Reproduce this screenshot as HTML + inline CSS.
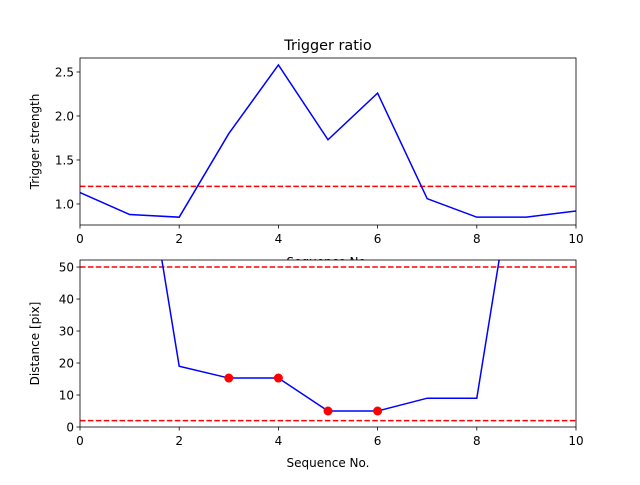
<!DOCTYPE html>
<html><head><meta charset="utf-8"><style>
body{margin:0;background:#fff}
svg text{font-family:"DejaVu Sans","Liberation Sans",sans-serif;fill:#000}
</style></head><body>
<svg id="c" width="640" height="480" xmlns="http://www.w3.org/2000/svg">
<defs>
<clipPath id="cp1"><rect x="80" y="58" width="496" height="167"/></clipPath>
<clipPath id="cp2"><rect x="80" y="260" width="496" height="167"/></clipPath>
</defs>
</svg>
<script>
const seqX = [0,1,2,3,4,5,6,7,8,9,10];
const triggerVals = [1.13,0.88,0.85,1.80,2.58,1.73,2.26,1.06,0.85,0.85,0.92];
const triggerThreshold = 1.2;
const distVals = [114,114,19,15.3,15.3,5,5,9,9,105,105];
const distMarkIdx = [3,4,5,6];
const distThresholds = [50,2];
const xTicks = [0,2,4,6,8,10];
const topYTicks = [1.0,1.5,2.0,2.5];
const botYTicks = [0,10,20,30,40,50];

const svg = document.getElementById('c');
const NS = 'http://www.w3.org/2000/svg';
function mk(t, a, parent){const e=document.createElementNS(NS,t);for(const k in a)e.setAttribute(k,a[k]);(parent||svg).appendChild(e);return e;}
const L=80,R=576;
const xs = v => L + (v-0)/(10-0)*(R-L);
const y1 = v => 225 - (v-0.761)/(2.659-0.761)*167;
const y2 = v => 427 - (v-0)/(52.2-0)*167;

function axes(top, bot, yf, yticks, fmt, name, ylab, xlabY){
  const g = mk('g',{});
  
  
  xTicks.forEach(t=>{
    const x=xs(t);
    const l=mk('line',{x1:x,x2:x,y1:bot,y2:bot+3.5,stroke:'#000','stroke-width':0.8},g);
    
    
    const tx=mk('text',{x:x,y:bot+18,'text-anchor':'middle','font-size':12},g);
    
    
    tx.textContent=t;
  });
  yticks.forEach(t=>{
    const y=yf(t);
    const l=mk('line',{x1:L-3.5,x2:L,y1:y,y2:y,stroke:'#000','stroke-width':0.8},g);
    
    
    const tx=mk('text',{x:L-6,y:y+4.5,'text-anchor':'end','font-size':12},g);
    
    
    tx.textContent=fmt(t);
  });
  const yl=mk('text',{x:0,y:0,'text-anchor':'middle','font-size':12,transform:`translate(${L-41},${(top+bot)/2}) rotate(-90)`},g);
  
  
  yl.textContent=ylab;
  const xl=mk('text',{x:(L+R)/2,y:xlabY,'text-anchor':'middle','font-size':12},g);
  
  
  xl.textContent='Sequence No.';
  return g;
}
const tt=mk('text',{x:328,y:50,'text-anchor':'middle','font-size':14.4});


tt.textContent='Trigger ratio';

axes(58,225,y1,topYTicks,v=>v.toFixed(1),'top-axes','Trigger strength',266);

// top plot
const g1=mk('g',{'clip-path':'url(#cp1)'});
const th=mk('line',{x1:L,x2:R,y1:y1(triggerThreshold),y2:y1(triggerThreshold),stroke:'#ff0000','stroke-width':1.5,'stroke-dasharray':'5.5,2.4'},g1);


const p1=mk('polyline',{points:seqX.map((x,i)=>xs(x)+','+y1(triggerVals[i])).join(' '),fill:'none',stroke:'#0000ff','stroke-width':1.5},g1);


const f1=mk('rect',{x:L,y:58,width:R-L,height:167,fill:'none',stroke:'#000','stroke-width':0.8});



// bottom plot (white background to cover overlapping label)
const bg=mk('rect',{x:L,y:260,width:R-L,height:167,fill:'#fff'});


axes(260,427,y2,botYTicks,v=>String(v),'bottom-axes','Distance [pix]',467);
const g2=mk('g',{'clip-path':'url(#cp2)'});
distThresholds.forEach(t=>{
  const l=mk('line',{x1:L,x2:R,y1:y2(t),y2:y2(t),stroke:'#ff0000','stroke-width':1.5,'stroke-dasharray':'5.5,2.4'},g2);
  
  
});
const p2=mk('polyline',{points:seqX.map((x,i)=>xs(x)+','+y2(distVals[i])).join(' '),fill:'none',stroke:'#0000ff','stroke-width':1.5},g2);


distMarkIdx.forEach(i=>{
  const c=mk('circle',{cx:xs(seqX[i]),cy:y2(distVals[i]),r:4.5,fill:'#ff0000'},g2);
  
  
});
const f2=mk('rect',{x:L,y:260,width:R-L,height:167,fill:'none',stroke:'#000','stroke-width':0.8});


</script>
</body></html>
